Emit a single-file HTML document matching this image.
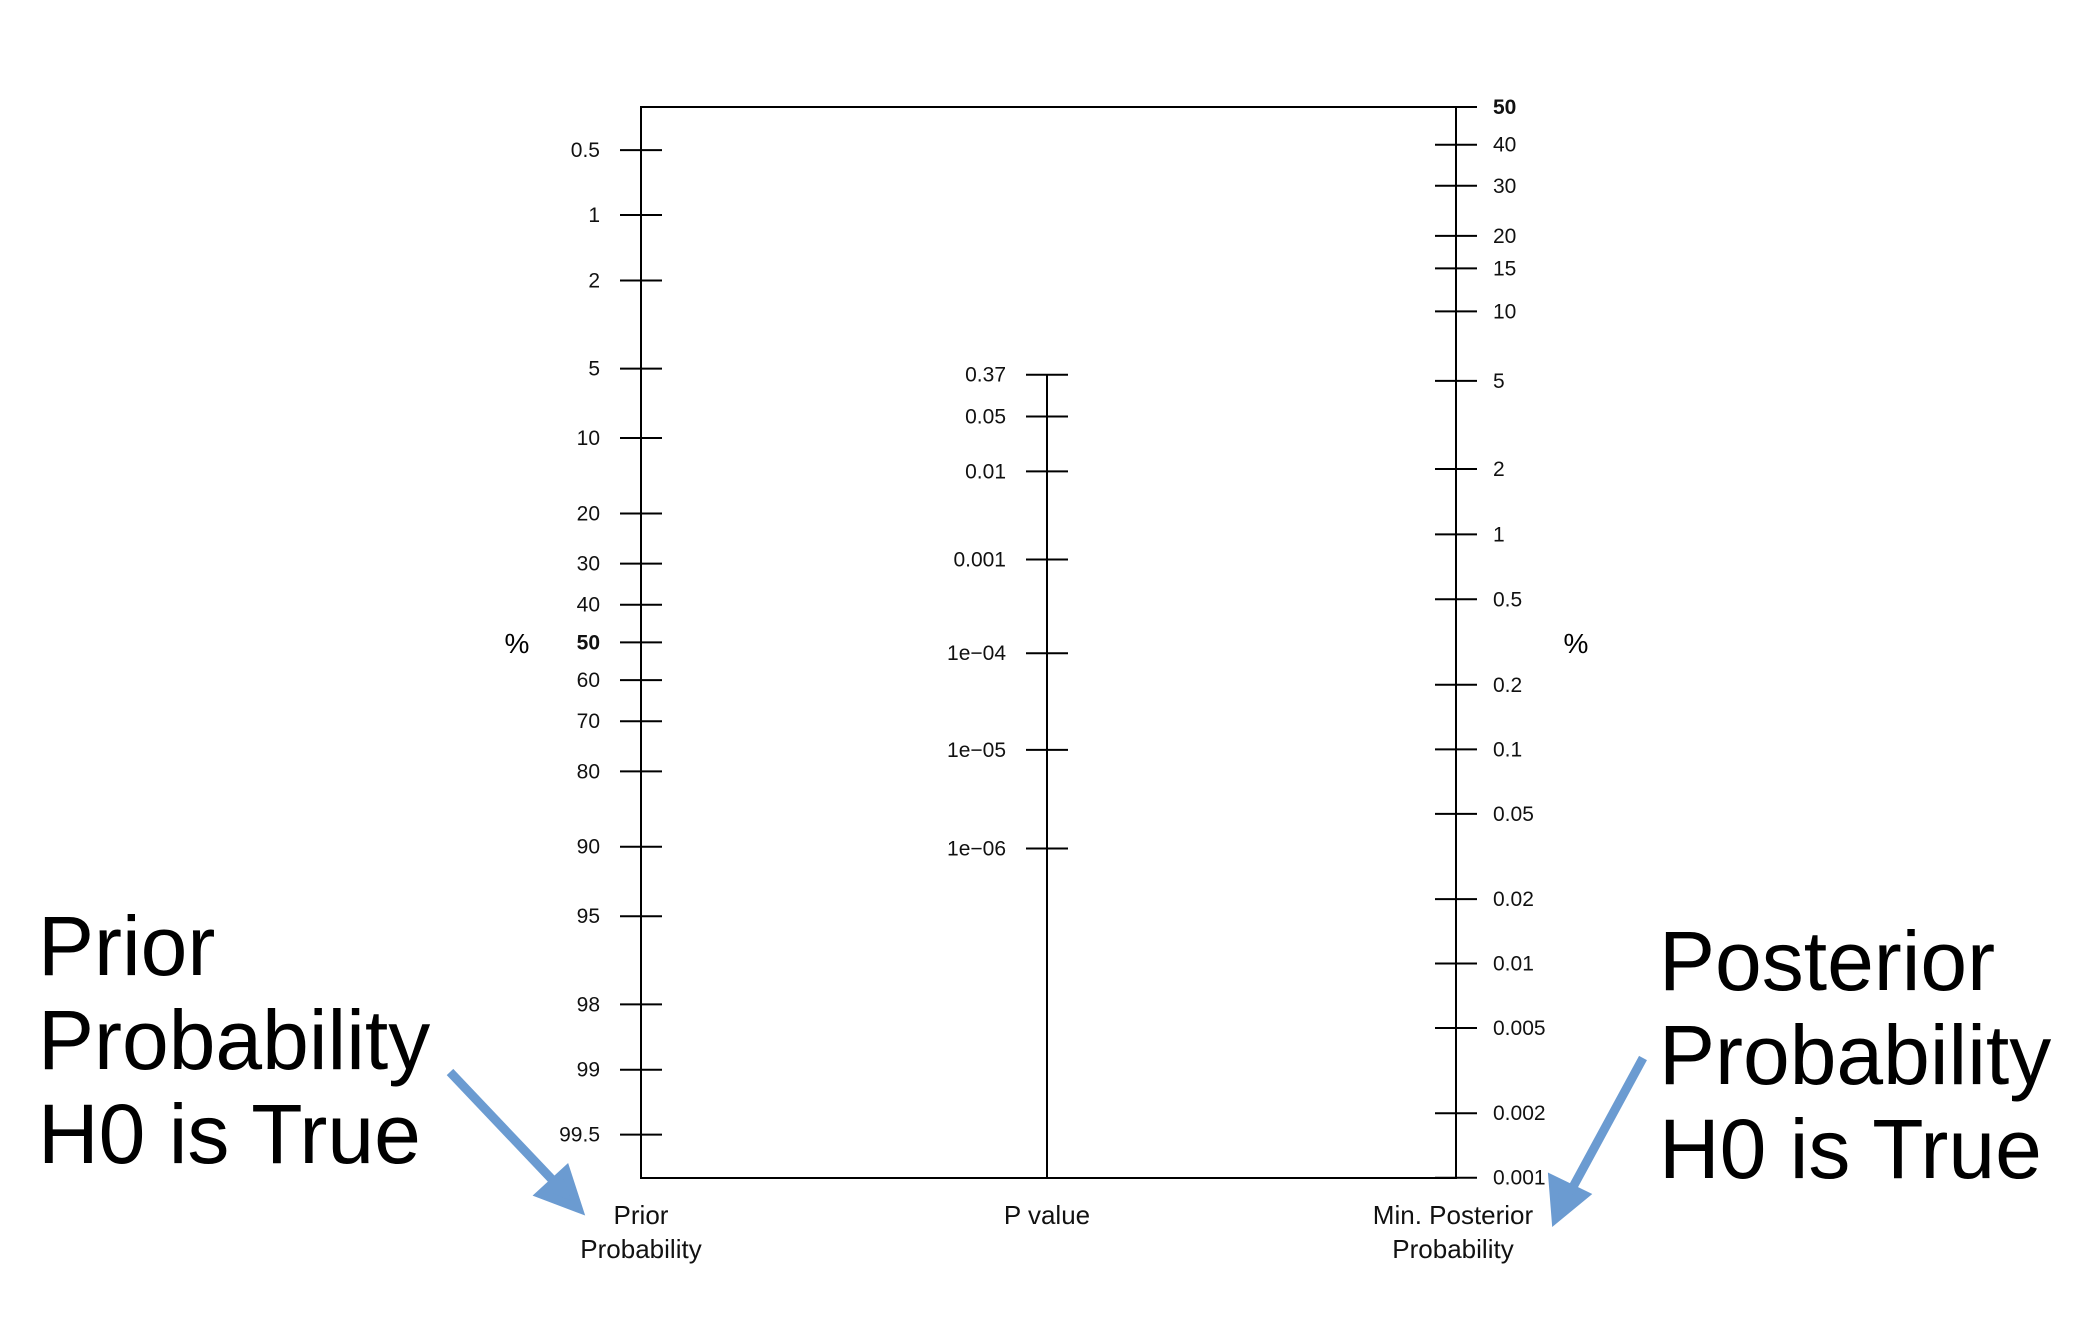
<!DOCTYPE html>
<html><head><meta charset="utf-8"><style>
html,body{margin:0;padding:0;background:#fff;}
svg{display:block;font-family:"Liberation Sans",Arial,sans-serif;}
</style></head><body>
<svg id="c" width="2094" height="1328" viewBox="0 0 2094 1328">
<rect x="641" y="107" width="815" height="1071" fill="none" stroke="#000" stroke-width="2"/>
<text x="517" y="653" font-size="28" text-anchor="middle">%</text>
<text x="1576" y="653" font-size="28" text-anchor="middle">%</text>
<g font-size="26" text-anchor="middle" fill="#111">
<text x="641" y="1224"><tspan x="641">Prior</tspan><tspan x="641" dy="34">Probability</tspan></text>
<text x="1047" y="1224">P value</text>
<text x="1453" y="1224"><tspan x="1453">Min. Posterior</tspan><tspan x="1453" dy="34">Probability</tspan></text>
</g>
<g font-size="84" fill="#000">
<text x="38" y="975"><tspan x="38">Prior</tspan><tspan x="38" dy="94">Probability</tspan><tspan x="38" dy="94">H0 is True</tspan></text>
<text x="1659" y="990"><tspan x="1659">Posterior</tspan><tspan x="1659" dy="94">Probability</tspan><tspan x="1659" dy="94">H0 is True</tspan></text>
</g>
<g stroke="#6b9bd1" stroke-width="9" fill="#6b9bd1">
<line x1="450" y1="1072" x2="562" y2="1190"/>
<polygon points="578,1208 541,1194 566,1171"/>
<line x1="1643" y1="1058" x2="1567" y2="1198"/>
<polygon points="1556,1218 1553,1180 1584,1195"/>
</g>
<g id="marks"></g>
</svg>
<script>
const priorTicks = [0.5,1,2,5,10,20,30,40,50,60,70,80,90,95,98,99,99.5];
const priorLabels = ["0.5","1","2","5","10","20","30","40","50","60","70","80","90","95","98","99","99.5"];
const postTicks = [50,40,30,20,15,10,5,2,1,0.5,0.2,0.1,0.05,0.02,0.01,0.005,0.002,0.001];
const postLabels = ["50","40","30","20","15","10","5","2","1","0.5","0.2","0.1","0.05","0.02","0.01","0.005","0.002","0.001"];
const pTicks = [0.37,0.05,0.01,0.001,1e-4,1e-5,1e-6];
const pLabels = ["0.37","0.05","0.01","0.001","1e\u221204","1e\u221205","1e\u221206"];

const NS="http://www.w3.org/2000/svg";
const g=document.getElementById('marks');
const XL=641, XM=1047, XR=1456, CY=642.4, K=93.0, YTOP=107, YBOT=1178;
function logit(p){return Math.log(p/(1-p));}
function yPrior(pct){return CY+K*logit(pct/100);}
function yPost(pct){return YTOP-K*logit(pct/100);}
function lnBF(p){return Math.log(-Math.E*p*Math.log(p));}
function yMid(p){return (CY+YTOP)/2 - (K/2)*lnBF(p);}
function mk(tag,attrs){const e=document.createElementNS(NS,tag);for(const k in attrs)e.setAttribute(k,attrs[k]);g.appendChild(e);return e;}
function tick(x,y){return mk('line',{x1:x-21,x2:x+21,y1:y,y2:y,stroke:'#000','stroke-width':2});}
let a=mk('line',{x1:XR,x2:XR,y1:YTOP,y2:YBOT,stroke:'#000','stroke-width':2});


const midTop=yMid(pTicks[0]);
a=mk('line',{x1:XM,x2:XM,y1:midTop,y2:YBOT,stroke:'#000','stroke-width':2});


priorTicks.forEach((v,i)=>{
  const y=yPrior(v);
  const t=tick(XL,y);
  
  
  const tx=mk('text',{x:600,y:y+7,'font-size':21,'text-anchor':'end',fill:'#111','font-weight':v===50?'bold':'normal'});
  tx.textContent=priorLabels[i];
  
  
});
postTicks.forEach((v,i)=>{
  const y=yPost(v);
  const t=tick(XR,y);
  
  
  const tx=mk('text',{x:1493,y:y+7,'font-size':21,'text-anchor':'start',fill:'#111','font-weight':v===50?'bold':'normal'});
  tx.textContent=postLabels[i];
  
  
});
pTicks.forEach((v,i)=>{
  const y=yMid(v);
  const t=tick(XM,y);
  
  
  const tx=mk('text',{x:1006,y:y+7,'font-size':21,'text-anchor':'end',fill:'#111'});
  tx.textContent=pLabels[i];
  
  
});
</script>
</body></html>
